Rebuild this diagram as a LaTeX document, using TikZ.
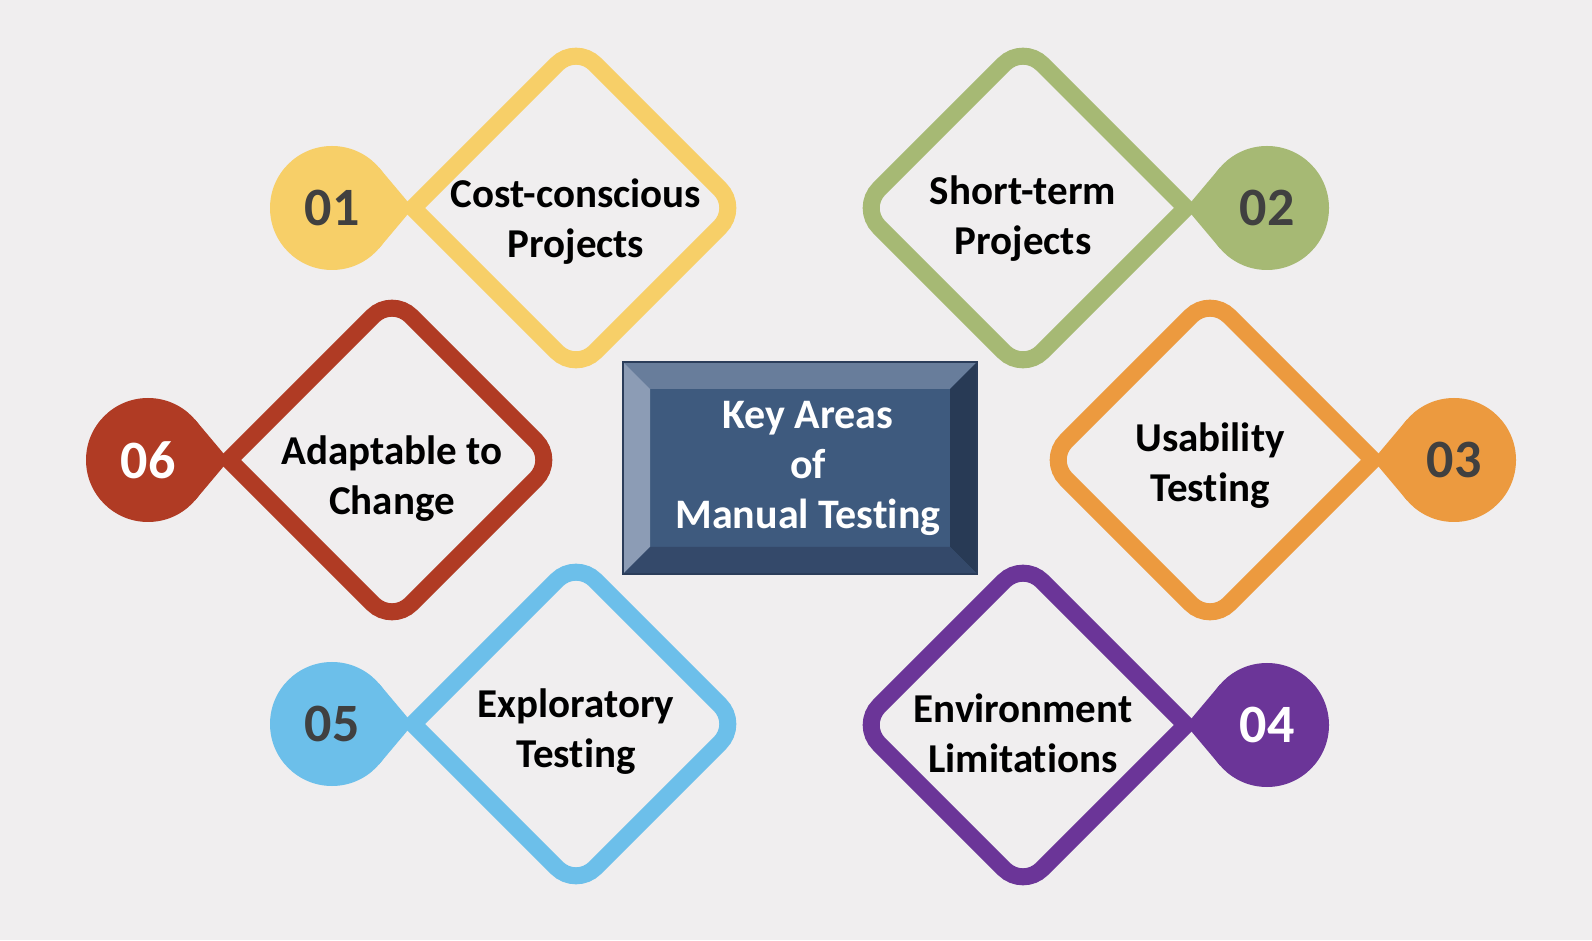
\documentclass[tikz,border=0pt]{standalone}
\usepackage{fontspec}
\setmainfont{Carlito}[Ligatures=NoCommon]
\usetikzlibrary{calc}
\definecolor{bgcol}{HTML}{F0EEEF}
\definecolor{cyel}{HTML}{F7CF68}
\definecolor{cgrn}{HTML}{A6B974}
\definecolor{cred}{HTML}{B03B24}
\definecolor{corg}{HTML}{EC9A3F}
\definecolor{cblu}{HTML}{6CBFEA}
\definecolor{cpur}{HTML}{6B3598}
\definecolor{numdark}{HTML}{404040}
\definecolor{face}{HTML}{3E5A7E}
\definecolor{bevtop}{HTML}{687D9B}
\definecolor{bevleft}{HTML}{8C9CB5}
\definecolor{bevright}{HTML}{283A55}
\definecolor{bevbot}{HTML}{34496A}
\definecolor{edgecol}{HTML}{2B3D5A}

\begin{document}
\begin{tikzpicture}[x=1pt,y=1pt,
    rim/.style={line width=17pt,line join=miter},
    badge/.style={circle,inner sep=0pt,outer sep=0pt,minimum size=124pt,
      font=\fontsize{54}{60}\selectfont\bfseries},
    areatext/.style={align=center,anchor=base,font=\fontsize{41}{50}\selectfont\bfseries}]
    \fill[bgcol] (0,0) rectangle (1592,940);
    \foreach \n/\x/\y/\s/\c/\t/\d/\lab in {
      01/576/732/-1/cyel/numdark/0/{Cost-conscious\\Projects},
      02/1023/732/1/cgrn/numdark/-3/{Short-term\\Projects},
      06/392/480/-1/cred/white/5/{Adaptable to\\Change},
      03/1210/480/1/corg/numdark/-8/{Usability\\Testing},
      05/576/216/-1/cblu/numdark/-7/{Exploratory\\Testing},
      04/1023/215/1/cpur/white/-3/{Environment\\Limitations}}{
      \pgfmathtruncatemacro\ta{90+90*\s+41}
      \pgfmathtruncatemacro\tb{90+90*\s-41}
      \node[badge,fill=\c,text=\t] (c\n) at ({\x+\s*244},\y) {\n};
      \coordinate (v\n) at ({\x+\s*163},\y);
      \fill[\c] (v\n) -- (c\n.\ta) -- (c\n.\tb) -- cycle;
      \draw[rim,\c] ({\x+\s*81.5},{\y+81.5}) [rounded corners=27pt] -- (\x,{\y+163})
        -- ({\x-\s*163},\y) -- (\x,{\y-163}) -- ({\x+\s*81.5},{\y-81.5})
        [sharp corners] -- (v\n) -- cycle;
      \node[areatext] (t\n) at (\x,{\y-\d-50}) {\lab};
    }
    \node[fill=face,inner sep=0pt,outer sep=0pt,minimum width=354pt,minimum height=212pt]
      (box) at (800,472) {};
    \coordinate (inw) at ($(box.north west)+(27,-27)$);
    \coordinate (ine) at ($(box.north east)+(-27,-27)$);
    \coordinate (isw) at ($(box.south west)+(27,27)$);
    \coordinate (ise) at ($(box.south east)+(-27,27)$);
    \fill[bevtop] (box.north west) -- (box.north east) -- (ine) -- (inw) -- cycle;
    \fill[bevleft] (box.north west) -- (inw) -- (isw) -- (box.south west) -- cycle;
    \fill[bevright] (box.north east) -- (ine) -- (ise) -- (box.south east) -- cycle;
    \fill[bevbot] (box.south west) -- (isw) -- (ise) -- (box.south east) -- cycle;
    \draw[edgecol,line width=1.5pt] (box.south west) rectangle (box.north east);
    \node[areatext,text=white,font=\fontsize{42}{50}\selectfont\bfseries]
      (title) at (808,411) {Key Areas\\of\\Manual Testing};
\end{tikzpicture}
\end{document}
